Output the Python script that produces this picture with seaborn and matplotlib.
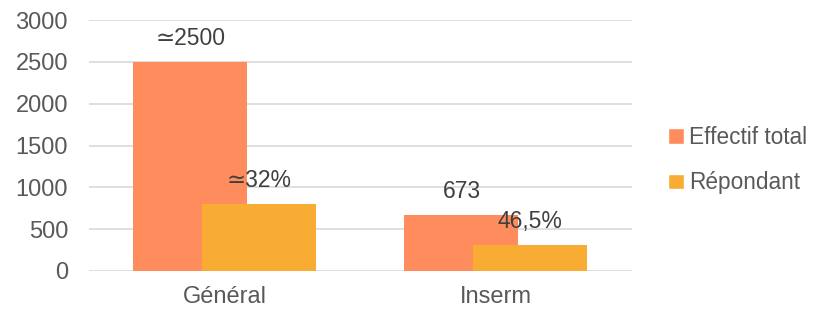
import numpy as np
import pandas as pd
import matplotlib.pyplot as plt
import seaborn as sns

# ------------------------------------------------------------
# Données
# ------------------------------------------------------------
categories = ["Général", "Inserm"]
effectif_total = [2500, 673]
repondant = [800, 313]
labels_total = ["\u22432500", "673"]
labels_repondant = ["\u224332%", "46,5%"]
series = ["Effectif total", "Répondant"]

df = pd.DataFrame({
    "Groupe": categories * 2,
    "Valeur": effectif_total + repondant,
    "Serie": [series[0]] * 2 + [series[1]] * 2,
})

couleurs = {"Effectif total": "#FF8C5C", "Répondant": "#F8AC33"}
gris = "#595959"

sns.set_style("white")
plt.rcParams["font.family"] = ["Liberation Sans", "DejaVu Sans"]

fig = plt.figure(figsize=(8.15, 3.10), dpi=100)
ax = fig.add_axes([0.109, 0.126, 0.666, 0.809])

sns.barplot(data=df, x="Groupe", y="Valeur", hue="Serie", palette=couleurs,
            order=categories, hue_order=series, ax=ax, legend=True,
            saturation=1, width=0.8)

# Barres qui se chevauchent (style Excel)
largeur = 0.42
decalage = 0.127
conteneurs = ax.containers
for i, cont in enumerate(conteneurs):
    signe = -1 if i == 0 else 1
    for j, barre in enumerate(cont):
        barre.set_width(largeur)
        barre.set_x(j + signe * decalage - largeur / 2)
        barre.set_linewidth(0)

# Etiquettes de données
for i, (cont, etiquettes) in enumerate(zip(conteneurs, [labels_total, labels_repondant])):
    for barre, txt in zip(cont, etiquettes):
        ax.annotate(txt, (barre.get_x() + barre.get_width() / 2, barre.get_height()),
                    xytext=(0, 17), textcoords="offset points",
                    ha="center", va="center", fontsize=16.5, color="#404040")

ax.set_xlim(-0.5, 1.5)
ax.set_ylim(0, 3000)
ax.set_yticks(np.arange(0, 3001, 500))
ax.yaxis.grid(True, color="#D9D9D9", linewidth=1.2)
ax.set_axisbelow(True)
for s in ax.spines.values():
    s.set_visible(False)
ax.set_xlabel("")
ax.set_ylabel("")
ax.tick_params(axis="y", length=0, pad=15, labelsize=17, labelcolor=gris)
ax.tick_params(axis="x", length=0, pad=11, labelsize=17, labelcolor=gris)

leg = ax.legend(loc="center left", bbox_to_anchor=(1.03, 0.442), frameon=False,
                fontsize=16.3, handlelength=0.7, handleheight=0.7,
                handletextpad=0.2, labelspacing=1.0, labelcolor=gris)

fig.savefig("out.png", dpi=100)
